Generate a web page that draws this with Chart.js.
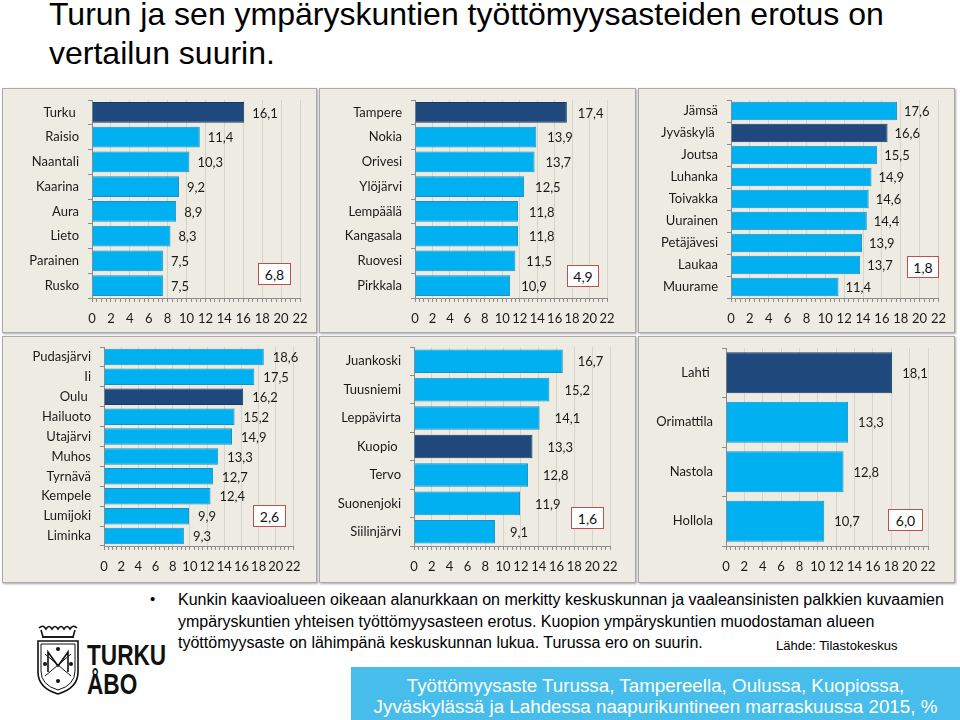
<!DOCTYPE html>
<html>
<head>
<meta charset="utf-8">
<script src="https://cdn.jsdelivr.net/npm/chart.js@4.4.1/dist/chart.umd.min.js"></script>
<style>
  html, body { margin:0; padding:0; background:#fff; }
  body { width:960px; height:720px; position:relative; overflow:hidden; font-family:"Liberation Sans", Arial, sans-serif; }
  .title { position:absolute; left:49px; top:-5px; font-size:32px; line-height:39px; color:#000; white-space:nowrap; }
  .panel { position:absolute; background:#EEECE2; border:1px solid #A9A9A9; box-sizing:border-box; box-shadow:1px 1px 2px rgba(0,0,0,0.35); }
  canvas.pc { position:absolute; }
  .diff { position:absolute; background:#fff; border:1px solid #C0504D; box-sizing:border-box; font-family:Lato, sans-serif; font-size:14px; color:#111; display:flex; align-items:center; justify-content:center; }
  .bullet { position:absolute; left:178px; top:589px; font-size:16px; line-height:21.5px; color:#000; white-space:nowrap; }
  .dot { position:absolute; left:150px; top:590px; font-size:15px; }
  .source { position:absolute; left:776px; top:638px; font-size:13px; color:#000; white-space:nowrap; }
  .footer { position:absolute; left:351px; top:667px; width:609px; height:53px; background:#46BDEA; color:#fff; font-size:18.8px; line-height:21px; text-align:center; padding-top:8px; box-sizing:border-box; white-space:nowrap; }
  .logo-t { position:absolute; left:87px; font-weight:bold; font-size:29px; color:#111; transform:scaleX(0.78); transform-origin:0 0; }
</style>
</head>
<body>
<div class="title">Turun ja sen ympäryskuntien työttömyysasteiden erotus on<br>vertailun suurin.</div>
<div id="charts"></div>
<div class="dot">•</div>
<div class="bullet" id="bullet">Kunkin kaavioalueen oikeaan alanurkkaan on merkitty keskuskunnan ja vaaleansinisten palkkien kuvaamien<br>ympäryskuntien yhteisen  työttömyysasteen erotus. Kuopion ympäryskuntien muodostaman alueen<br>työttömyysaste on lähimpänä keskuskunnan lukua. Turussa ero on suurin.</div>
<div class="source">Lähde: Tilastokeskus</div>
<svg style="position:absolute;left:33px;top:624px" width="50" height="72" viewBox="0 0 50 72">
  <g fill="none" stroke="#111" stroke-width="1.6">
    <path d="M6 4 q4 -4 7 1 q3 -5 6 0 q3 -5 6 0 q3 -5 6 0 q3 -5 6 0 q3 -5 7 -1"/>
    <path d="M8 6 L10 13 L40 13 L42 6"/>
    <path d="M9 13 L41 13"/>
    <path d="M5 17 L45 17 L45 48 Q45 64 25 70 Q5 64 5 48 Z"/>
    <path d="M8 20 L42 20 L42 47 Q42 61 25 66 Q8 61 8 47 Z" stroke-width="1"/>
    <path d="M15 48 L15 28 L25 42 L35 28 L35 48"/>
    <path d="M12 30 L38 52 M38 30 L12 52" stroke-width="1"/>
  </g>
  <g fill="#111"><circle cx="25" cy="25" r="2"/><circle cx="12" cy="40" r="2"/><circle cx="38" cy="40" r="2"/><circle cx="25" cy="57" r="2"/></g>
</svg>
<div class="logo-t" style="top:639px">TURKU</div>
<div class="logo-t" style="top:668px">ÅBO</div>
<div class="footer">Työttömyysaste Turussa, Tampereella, Oulussa, Kuopiossa,<br>Jyväskylässä ja Lahdessa naapurikuntineen marraskuussa 2015, %</div>

<script>
// ---- DATA ----
const turkuCats = ['Turku ', 'Raisio', 'Naantali', 'Kaarina', 'Aura', 'Lieto', 'Parainen', 'Rusko'];
const turkuVals = [16.1, 11.4, 10.3, 9.2, 8.9, 8.3, 7.5, 7.5];
const tampereCats = ['Tampere', 'Nokia', 'Orivesi', 'Ylöjärvi', 'Lempäälä', 'Kangasala', 'Ruovesi', 'Pirkkala'];
const tampereVals = [17.4, 13.9, 13.7, 12.5, 11.8, 11.8, 11.5, 10.9];
const jyvaskylaCats = ['Jämsä', 'Jyväskylä ', 'Joutsa', 'Luhanka', 'Toivakka', 'Uurainen', 'Petäjävesi', 'Laukaa', 'Muurame'];
const jyvaskylaVals = [17.6, 16.6, 15.5, 14.9, 14.6, 14.4, 13.9, 13.7, 11.4];
const ouluCats = ['Pudasjärvi', 'Ii', 'Oulu ', 'Hailuoto', 'Utajärvi', 'Muhos', 'Tyrnävä', 'Kempele', 'Lumijoki', 'Liminka'];
const ouluVals = [18.6, 17.5, 16.2, 15.2, 14.9, 13.3, 12.7, 12.4, 9.9, 9.3];
const kuopioCats = ['Juankoski', 'Tuusniemi', 'Leppävirta', 'Kuopio ', 'Tervo', 'Suonenjoki', 'Siilinjärvi'];
const kuopioVals = [16.7, 15.2, 14.1, 13.3, 12.8, 11.9, 9.1];
const lahtiCats = ['Lahti ', 'Orimattila', 'Nastola', 'Hollola'];
const lahtiVals = [18.1, 13.3, 12.8, 10.7];
const centreIndex = [0, 0, 1, 2, 3, 0];
const diffs = ['6,8', '4,9', '1,8', '2,6', '1,6', '6,0'];
const xTicks = [0, 2, 4, 6, 8, 10, 12, 14, 16, 18, 20, 22];

const allCats = [turkuCats, tampereCats, jyvaskylaCats, ouluCats, kuopioCats, lahtiCats];
const allVals = [turkuVals, tampereVals, jyvaskylaVals, ouluVals, kuopioVals, lahtiVals];

// ---- LAYOUT (page pixels) ----
const layout = [
  {l:2,   t:88,  r:317, b:333, x0:92,  x1:300, y0:100, y1:298, gap:8,  box:[258,263,33,22]},
  {l:319, t:88,  r:636, b:333, x0:415, x1:607, y0:100, y1:298, gap:11, box:[567,265,32,22]},
  {l:638, t:88,  r:955, b:333, x0:731, x1:940, y0:100, y1:298, gap:7,  box:[907,256,32,22]},
  {l:2,   t:336, r:317, b:583, x0:104, x1:293, y0:347, y1:546, gap:9,  box:[253,505,33,22]},
  {l:319, t:336, r:636, b:583, x0:414, x1:610, y0:347, y1:546, gap:15, box:[571,507,33,22]},
  {l:638, t:336, r:955, b:583, x0:726, x1:928, y0:348, y1:546, gap:10, box:[888,509,35,22]},
];

const LIGHT = '#00B0F0', LIGHT_B = '#1692C6', DARK = '#1F487C', DARK_B = '#163A66';
const AXIS = '#8C8C8C', GRID = '#D6D4CB', TXT = '#1A1A1A';
const FONT = {family: 'Lato, "Noto Sans", sans-serif', size: 13};
const fmt = v => v.toFixed(1).replace('.', ',');

const labelPlugin = {
  id: 'valLabels',
  afterDatasetsDraw(chart, args, opts) {
    const ctx = chart.ctx;
    const meta = chart.getDatasetMeta(0);
    ctx.save();
    ctx.font = `${FONT.size}px ${FONT.family}`;
    ctx.fillStyle = TXT;
    ctx.textAlign = 'left';
    ctx.textBaseline = 'middle';
    meta.data.forEach((bar, i) => {
      const v = chart.data.datasets[0].data[i];
      ctx.fillText(fmt(v), bar.x + opts.gap, bar.y + 1);
    });
    ctx.restore();
  }
};

const host = document.getElementById('charts');
layout.forEach((L, k) => {
  const panel = document.createElement('div');
  panel.className = 'panel';
  Object.assign(panel.style, {left: L.l + 'px', top: L.t + 'px', width: (L.r - L.l) + 'px', height: (L.b - L.t) + 'px'});
  host.appendChild(panel);

  const W = L.r - L.l, H = L.b - L.t;
  const cv = document.createElement('canvas');
  cv.className = 'pc';
  cv.width = W; cv.height = H;
  Object.assign(cv.style, {left: L.l + 'px', top: L.t + 'px', width: W + 'px', height: H + 'px'});
  host.appendChild(cv);

  const xH = 33;
  const yW = L.x0 - L.l;
  const vals = allVals[k];
  const colors = vals.map((_, i) => i === centreIndex[k] ? DARK : LIGHT);
  const borders = vals.map((_, i) => i === centreIndex[k] ? DARK_B : LIGHT_B);

  new Chart(cv, {
    type: 'bar',
    data: {
      labels: allCats[k],
      datasets: [{data: vals, backgroundColor: colors, borderColor: borders, borderWidth: 1,
                  barPercentage: 0.83, categoryPercentage: 1.0}]
    },
    options: {
      indexAxis: 'y',
      responsive: false,
      animation: false,
      devicePixelRatio: 1,
      layout: {padding: {left: 0, top: L.y0 - L.t, right: L.r - L.x1, bottom: Math.max(0, (L.b - L.y1) - xH)}},
      plugins: {legend: {display: false}, tooltip: {enabled: false}, title: {display: false},
                valLabels: {gap: L.gap}},
      scales: {
        x: {
          type: 'linear', min: 0, max: 22,
          afterBuildTicks: s => {
            const t = [];
            for (let i = 0; i <= 44; i++) t.push({value: i / 2});
            s.ticks = t;
          },
          ticks: {autoSkip: false, maxRotation: 0, minRotation: 0, padding: 9, color: TXT, font: FONT,
                  callback: v => (xTicks.includes(v) ? String(v) : '')},
          grid: {
            color: c => (c.tick && xTicks.includes(c.tick.value) && c.tick.value !== 0) ? GRID : 'rgba(0,0,0,0)',
            tickColor: AXIS, tickLength: 4, drawTicks: true, lineWidth: 1
          },
          border: {color: AXIS, width: 1},
          afterFit: s => { s.height = xH; }
        },
        y: {
          type: 'category',
          ticks: {color: TXT, font: FONT, padding: 9, autoSkip: false},
          grid: {drawOnChartArea: false, offset: true, tickLength: 4, color: AXIS},
          border: {color: AXIS, width: 1},
          afterFit: s => { s.width = yW; s.paddingTop = 0; s.paddingBottom = 0; }
        }
      }
    },
    plugins: [labelPlugin]
  });

  const d = document.createElement('div');
  d.className = 'diff';
  Object.assign(d.style, {left: L.box[0] + 'px', top: L.box[1] + 'px', width: L.box[2] + 'px', height: L.box[3] + 'px'});
  d.textContent = diffs[k];
  host.appendChild(d);
});
</script>
</body>
</html>
